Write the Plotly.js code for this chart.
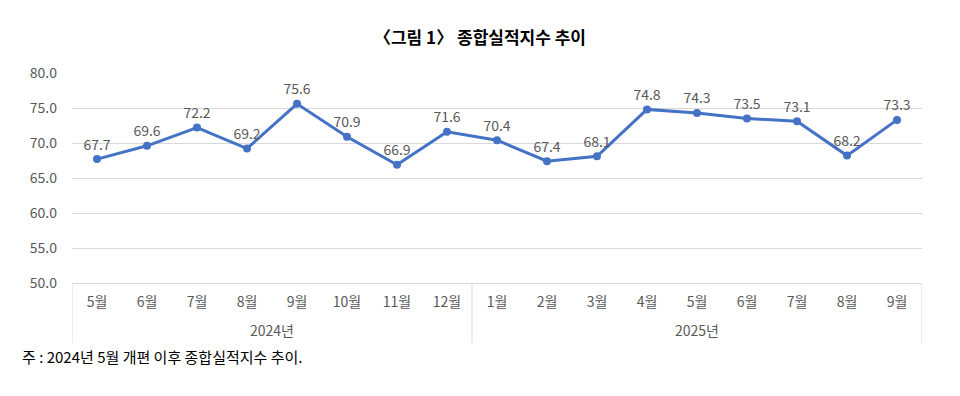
<!DOCTYPE html>
<html><head><meta charset="utf-8">
<script src="https://cdn.plot.ly/plotly-3.0.1.min.js"></script>
<style>html,body{margin:0;padding:0;background:#fff;}#chart{width:960px;height:396px;}</style>
</head><body><div id="chart"></div>
<script>
const years = ["2024년","2024년","2024년","2024년","2024년","2024년","2024년","2024년","2025년","2025년","2025년","2025년","2025년","2025년","2025년","2025년","2025년"];
const months = ["5월","6월","7월","8월","9월","10월","11월","12월","1월","2월","3월","4월","5월","6월","7월","8월","9월"];
const values = [67.7,69.6,72.2,69.2,75.6,70.9,66.9,71.6,70.4,67.4,68.1,74.8,74.3,73.5,73.1,68.2,73.3];
const titleText = "〈그림 1〉 종합실적지수 추이";
const noteText = "주 : 2024년 5월 개편 이후 종합실적지수 추이.";

const font = '"Noto Sans CJK KR", "Noto Sans", sans-serif';
const idx = months.map((m, i) => i);

// group boundaries from years
const groups = [];
years.forEach((y, i) => {
  if (!groups.length || groups[groups.length - 1].name !== y) groups.push({name: y, start: i, end: i});
  else groups[groups.length - 1].end = i;
});
const divColor = '#d9d9d9';
const shapes = [];
const boxBottom = -0.286;
groups.forEach((g, k) => {
  if (k === 0) shapes.push({type: 'line', xref: 'x', yref: 'paper', x0: g.start - 0.5, x1: g.start - 0.5, y0: 0, y1: boxBottom, line: {color: divColor, width: 1}});
  shapes.push({type: 'line', xref: 'x', yref: 'paper', x0: g.end + 0.5, x1: g.end + 0.5, y0: 0, y1: boxBottom, line: {color: divColor, width: 1}});
});
const annotations = groups.map(g => ({
  text: g.name, xref: 'x', yref: 'paper', x: (g.start + g.end) / 2, y: -0.224, xanchor: 'center', yanchor: 'middle',
  showarrow: false, font: {family: font, size: 14, color: '#595959'}
}));
annotations.push({text: noteText, xref: 'paper', yref: 'paper', x: -0.0612, y: -0.352, xanchor: 'left', yanchor: 'middle',
  showarrow: false, font: {family: font, size: 15, color: '#000'}});

const trace = {
  x: idx, y: values, type: 'scatter', mode: 'lines+markers+text',
  line: {color: '#4472C4', width: 3},
  marker: {color: '#4472C4', size: 8},
  text: values.map(v => v.toFixed(1)), textposition: 'top center',
  textfont: {family: font, size: 14, color: '#595959'},
  cliponaxis: false, hoverinfo: 'none'
};
const layout = {
  width: 960, height: 396,
  margin: {l: 72, r: 38, t: 73, b: 113},
  paper_bgcolor: '#fff', plot_bgcolor: '#fff',
  showlegend: false,
  title: {text: '<b>' + titleText + '</b>', x: 0.5, xanchor: 'center', y: 0.905, yanchor: 'middle',
          font: {family: font, size: 17, color: '#000'}},
  xaxis: {range: [-0.5, months.length - 0.5], tickvals: idx, ticktext: months, showgrid: false, zeroline: false,
          showline: true, linecolor: divColor, linewidth: 1, ticks: '', ticklabelstandoff: 6,
          tickfont: {family: font, size: 14, color: '#595959'}},
  yaxis: {range: [50, 80], dtick: 5, tickformat: '.1f', showgrid: true, gridcolor: divColor, gridwidth: 1,
          zeroline: false, showline: false, ticks: '', ticklabelstandoff: 14,
          tickfont: {family: font, size: 14, color: '#595959'}},
  shapes: shapes,
  annotations: annotations
};
Plotly.newPlot('chart', [trace], layout, {staticPlot: true, displayModeBar: false});
</script></body></html>
